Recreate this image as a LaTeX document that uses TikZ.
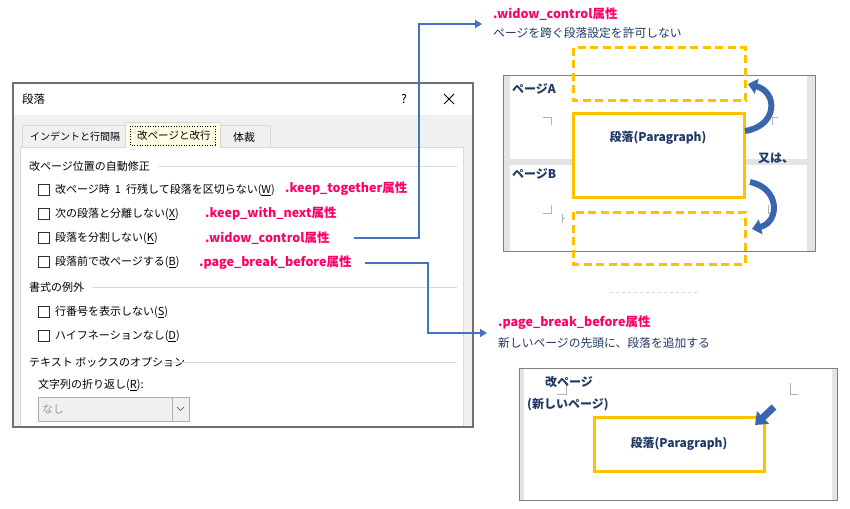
\documentclass[tikz,border=0pt]{standalone}
\usepackage{fontspec}
\setmainfont{Noto Sans CJK JP}
\usepackage{xcolor}
\usepackage{tikz}
\usetikzlibrary{arrows.meta}
\definecolor{attr}{HTML}{FF0066}
\definecolor{navy}{HTML}{1F3864}
\definecolor{link}{HTML}{4472C4}
\definecolor{turnblue}{HTML}{3A66B0}
\definecolor{gold}{HTML}{FFC000}
\definecolor{frame}{HTML}{707070}
\definecolor{panel}{HTML}{D9D9D9}
\definecolor{dlgbg}{HTML}{F0F0F0}
\definecolor{tabsel}{HTML}{FFFDE3}
\definecolor{strip}{HTML}{E4E4E4}
\tikzset{
  dlg/.style={anchor=west, inner sep=0pt, text=black, font=\fontsize{11}{13}\selectfont},
  attrlab/.style={anchor=west, inner sep=0pt, text=attr, font=\fontsize{12.5}{14}\selectfont\bfseries},
  note/.style={anchor=west, inner sep=0pt, text=navy, font=\fontsize{11.8}{13}\selectfont},
  pg/.style={inner sep=0pt, text=navy, font=\fontsize{12}{14}\selectfont\bfseries},
  chk/.style={draw=black!80, line width=0.8pt, minimum size=11.5pt, inner sep=0pt},
  grp/.style={draw=panel, line width=0.8pt},
  conn/.style={draw=link, line width=1.5pt, -{Triangle[width=8pt,length=7pt]}},
  paraBox/.style={draw=gold, line width=3pt, fill=white},
  ghostBox/.style={draw=gold, line width=3pt, dash pattern=on 8pt off 4.5pt},
  turn/.style={draw=turnblue, line width=6pt, -{Triangle[width=15pt,length=9pt]}},
  crop/.style={draw=black!30, line width=0.8pt}
}

\begin{document}
\begin{tikzpicture}[x=1pt,y=-1pt]
\useasboundingbox (0,0) rectangle (850,508);

% dialog
\fill[white] (13,83) rectangle (473,115);
\fill[dlgbg] (13,115) rectangle (473,427);
\node[dlg, font=\fontsize{11.5}{13}\selectfont] (title) at (22,99) {段落};
\node[inner sep=0pt, font=\fontsize{12}{14}\selectfont] (helpMark) at (404,99) {?};
\draw[line width=0.8pt] (444,94) -- (454,104) (444,104) -- (454,94);
\draw[grp, fill=dlgbg] (22,125) rectangle (125,147);
\draw[grp, fill=dlgbg] (220,125) rectangle (270,147);
\draw[grp, fill=white] (20,147) rectangle (463,427);
\draw[grp, fill=tabsel] (125,148) -- (125,122) -- (220,122) -- (220,148);
\draw[black, dotted, line width=0.6pt] (130,126) rectangle (215,145);
\node[dlg, font=\fontsize{10}{12}\selectfont] (tabIndent) at (30,137) {インデントと行間隔};
\node[dlg, font=\fontsize{10.5}{12}\selectfont] (tabBreak) at (137,136) {改ページと改行};
\node[dlg] (tabLayout) at (233,137) {体裁};

\node[dlg] (grpBreak) at (29,166) {改ページ位置の自動修正};
\draw[grp] (158,166) -- (457,166);
\node[chk] (cbKeep) at (44,190) {};
\node[dlg] (optKeep) at (55,190) {改ページ時\hspace{5pt}1\hspace{5pt}行残して段落を区切らない(\underline{W})};
\node[chk] (cbNext) at (44,214) {};
\node[dlg] (optNext) at (55,214) {次の段落と分離しない(\underline{X})};
\node[chk] (cbSplit) at (44,238) {};
\node[dlg] (optSplit) at (55,238) {段落を分割しない(\underline{K})};
\node[chk] (cbBefore) at (44,262) {};
\node[dlg] (optBefore) at (55,262) {段落前で改ページする(\underline{B})};
\node[attrlab] (attrKeep) at (285,189) {.keep\_together属性};
\node[attrlab] (attrNext) at (205,213) {.keep\_with\_next属性};
\node[attrlab] (attrWidow) at (205,238) {.widow\_control属性};
\node[attrlab] (attrBefore) at (199,263) {.page\_break\_before属性};

\node[dlg] (grpExcept) at (29,287) {書式の例外};
\draw[grp] (92,287) -- (457,287);
\node[chk] (cbLineNo) at (44,312) {};
\node[dlg] (optLineNo) at (55,312) {行番号を表示しない(\underline{S})};
\node[chk] (cbHyph) at (44,336) {};
\node[dlg] (optHyph) at (55,336) {ハイフネーションなし(\underline{D})};

\node[dlg] (grpText) at (29,362) {テキスト ボックスのオプション};
\draw[grp] (162,362) -- (457,362);
\node[dlg] (wrapLbl) at (38,385) {文字列の折り返し(\underline{R}):};
\draw[draw=black!32, fill=black!6, line width=0.8pt] (38,397) rectangle (189,421);
\draw[draw=black!32, line width=0.8pt] (172,397) -- (172,421);
\draw[black!70, line width=0.6pt] (177,407) -- (180.5,410.5) -- (184,407);
\node[dlg, text=black!40] (wrapVal) at (42,409) {なし};
\draw[frame, line width=2pt] (13,83) rectangle (473,427);

% widow_control
\node[attrlab] (hdWidow) at (493,14) {.widow\_control属性};
\node[note] (dsWidow) at (493,33) {ページを跨ぐ段落設定を許可しない};
\coordinate (bendA) at (419,24);
\coordinate (widowIn) at (482,24);
\draw[conn] ([xshift=24pt]attrWidow.east) -| (bendA) -- (widowIn);

\fill[strip] (503,76) rectangle (815,251);
\fill[white] (510,76) rectangle (807,159);
\fill[white] (510,165) rectangle (807,251);
\draw[black!50, line width=1pt] (503,76) rectangle (815,251);
\node[pg, anchor=west] (pageA) at (512,89) {ページA};
\node[pg, anchor=west] (pageB) at (512,174) {ページB};
\draw[crop] (543,117) -- (551,117) -- (551,125);
\draw[crop] (772,125) -- (772,117) -- (778,117);
\draw[crop] (551,205) -- (551,213) -- (543,213);
\draw[crop] (562,214) -- (562,223) (562,218) -- (565,218);
\draw[crop] (768,205) -- (768,213) -- (774,213);
\draw[ghostBox] (573,48) rectangle (745,101);
\draw[ghostBox] (573,212) rectangle (745,264);
\draw[paraBox] (573,113) rectangle (744,197);
\node[pg] (paraA) at (658,138) {段落(Paragraph)};
\node[pg] (orTxt) at (776,158) {又は、};
\coordinate (upFrom) at (745,131);
\coordinate (upTo) at (748,84);
\coordinate (downFrom) at (750,182);
\coordinate (downTo) at (752,229);
\draw[turn] (upFrom) .. controls (778,126) and (778,92) .. (upTo);
\draw[turn] (downFrom) .. controls (780,188) and (780,222) .. (downTo);

\draw[black!18, dashed, line width=0.6pt] (610,292) -- (700,292);

% page_break_before
\node[attrlab] (hdBefore) at (498,323) {.page\_break\_before属性};
\node[note] (dsBefore) at (498,343) {新しいページの先頭に、段落を追加する};
\coordinate (bendB) at (428,333);
\coordinate (beforeIn) at (487,333);
\draw[conn] ([xshift=13pt]attrBefore.east) -| (bendB) -- (beforeIn);

\fill[strip] (519,368) rectangle (837,500);
\fill[white] (524,368) rectangle (832,500);
\draw[black!50, line width=1pt] (519,368) rectangle (837,500);
\draw[crop] (566,383) -- (566,394) -- (557,394);
\draw[crop] (790,383) -- (790,394) -- (798,394);
\node[pg, anchor=west] (newPage) at (545,382) {改ページ};
\node[pg, anchor=west] (newPageSub) at (527,405) {(新しいページ)};
\node[paraBox, minimum width=170pt, minimum height=54pt, inner sep=0pt, text=navy,
  font=\fontsize{12}{14}\selectfont\bfseries] (paraB) at (679,444) {段落(Paragraph)};
\coordinate (pushFrom) at (774,407);
\coordinate (pushTo) at (755,425);
\draw[turnblue, line width=7pt, -{Triangle[width=17pt,length=11pt]}] (pushFrom) -- (pushTo);
\end{tikzpicture}
\end{document}
